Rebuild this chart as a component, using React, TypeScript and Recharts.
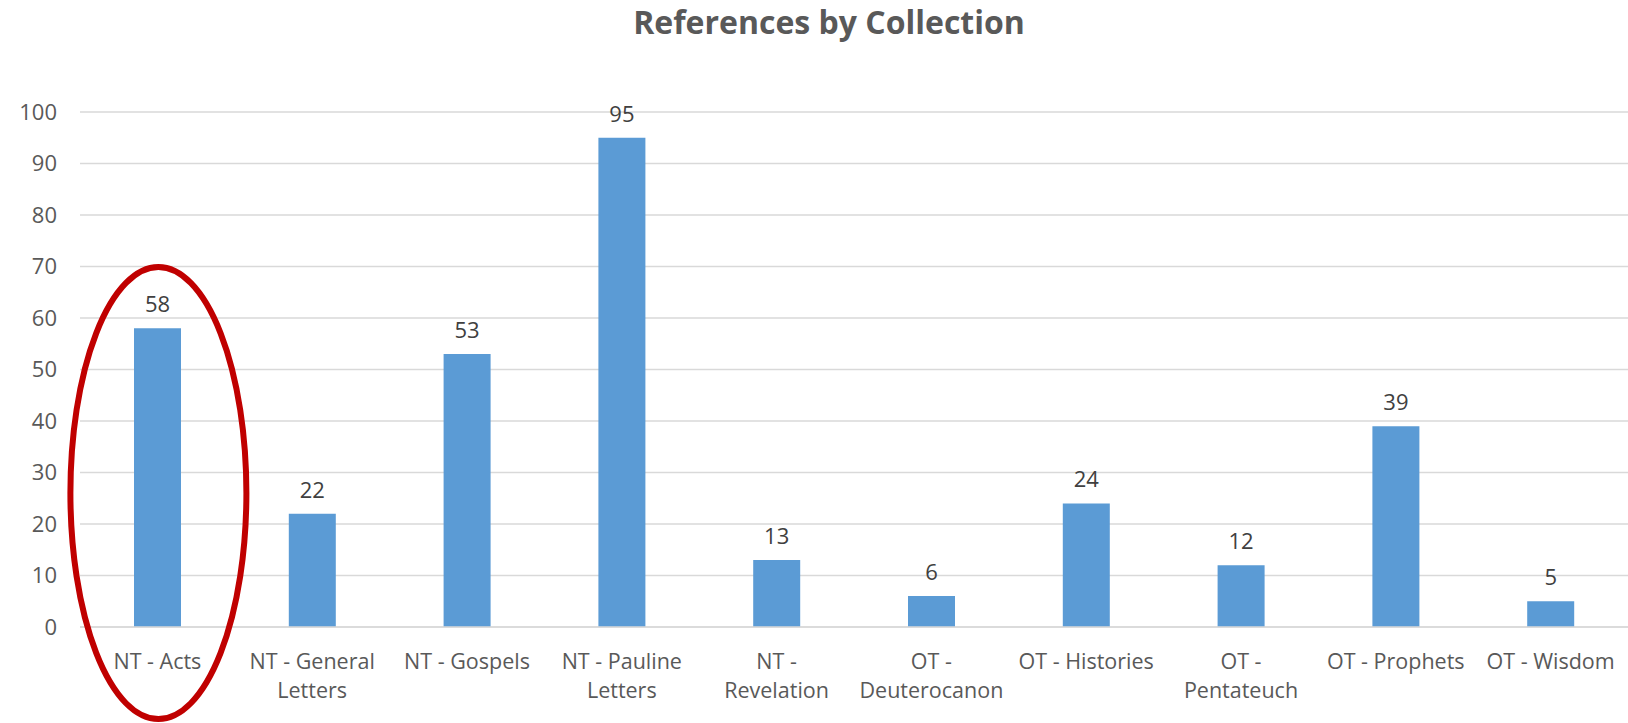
import React from 'react';
import { BarChart, Bar, XAxis, YAxis, CartesianGrid, LabelList, ReferenceDot } from 'recharts';

const categories = [
  'NT - Acts',
  'NT - General Letters',
  'NT - Gospels',
  'NT - Pauline Letters',
  'NT - Revelation',
  'OT - Deuterocanon',
  'OT - Histories',
  'OT - Pentateuch',
  'OT - Prophets',
  'OT - Wisdom',
];
const tickLines: string[][] = [
  ['NT - Acts'],
  ['NT - General', 'Letters'],
  ['NT - Gospels'],
  ['NT - Pauline', 'Letters'],
  ['NT -', 'Revelation'],
  ['OT -', 'Deuterocanon'],
  ['OT - Histories'],
  ['OT -', 'Pentateuch'],
  ['OT - Prophets'],
  ['OT - Wisdom'],
];
const references = [58, 22, 53, 95, 13, 6, 24, 12, 39, 5];
const yTicks = [0, 10, 20, 30, 40, 50, 60, 70, 80, 90, 100];
const highlighted = 'NT - Acts';
const highlightCenterValue = 26;

const data = categories.map((c, i) => ({ name: c, value: references[i], lines: tickLines[i] }));

const FONT = '"Open Sans", sans-serif';

const XTick = (props: any) => {
  const { x, y, payload } = props;
  const idx = categories.indexOf(payload.value);
  const lines = idx >= 0 ? tickLines[idx] : [payload.value];
  return (
    <g>
      {lines.map((l, i) => (
        <text key={i} x={x} y={y + 34 + i * 29} textAnchor="middle" fill="#595959" fontSize={21.5} fontFamily={FONT}>
          {l}
        </text>
      ))}
    </g>
  );
};

const EllipseShape = (props: any) => {
  const { cx, cy } = props;
  return <ellipse cx={cx + 1} cy={cy} rx={88} ry={226} fill="none" stroke="#C00000" strokeWidth={6} />;
};

export default function App() {
  return (
    <div style={{ position: 'absolute', left: 0, top: 0, width: 1628, height: 723, background: '#fff' }}>
      <div
        style={{
          position: 'absolute',
          left: 0,
          width: 1658,
          top: 0,
          textAlign: 'center',
          fontFamily: FONT,
          fontWeight: 700,
          fontSize: 32,
          color: '#595959',
          lineHeight: '44px',
        }}
      >
        References by Collection
      </div>
      <BarChart
        width={1628}
        height={723}
        data={data}
        margin={{ top: 112, right: 0, left: 0, bottom: 0 }}
        barCategoryGap="35%"
      >
        <CartesianGrid vertical={false} stroke="#D9D9D9" strokeWidth={1.5} />
        <XAxis
          dataKey="name"
          height={96}
          axisLine={{ stroke: '#D9D9D9', strokeWidth: 1.5 }}
          tickLine={false}
          interval={0}
          tick={<XTick />}
        />
        <YAxis
          width={80}
          domain={[0, 100]}
          ticks={yTicks}
          axisLine={false}
          tickLine={false}
          tickSize={0}
          tickMargin={23}
          tick={{ fill: '#595959', fontSize: 22, fontFamily: FONT }}
          interval={0}
        />
        <Bar dataKey="value" fill="#5B9BD5" isAnimationActive={false} barSize={47}>
          <LabelList dataKey="value" position="top" offset={16} fill="#404040" fontSize={22} fontFamily={FONT} />
        </Bar>
        <ReferenceDot
          x={highlighted}
          y={highlightCenterValue}
          ifOverflow="visible"
          shape={<EllipseShape />}
        />
      </BarChart>
    </div>
  );
}
